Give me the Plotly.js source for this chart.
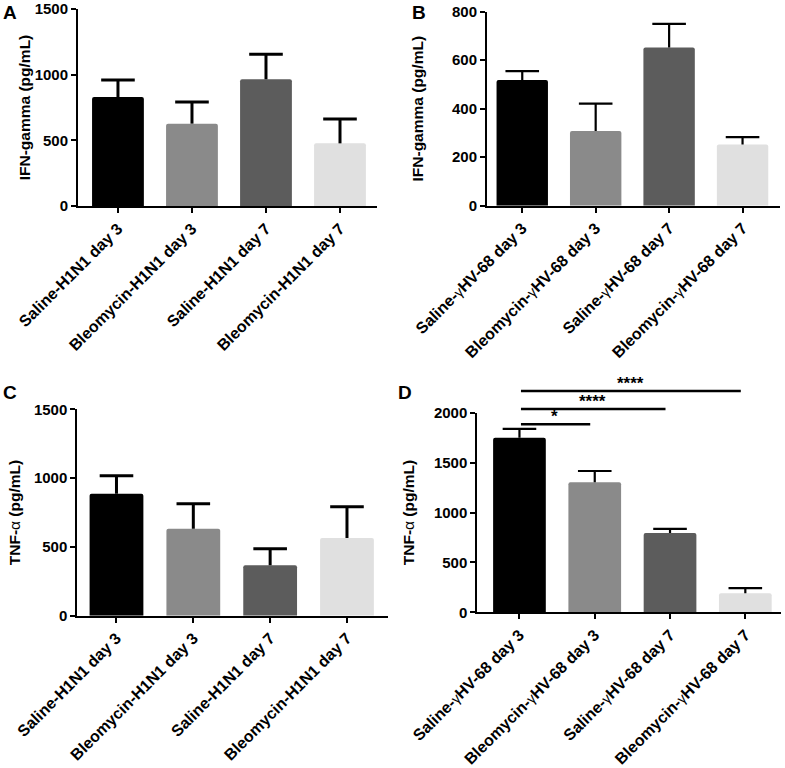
<!DOCTYPE html>
<html>
<head>
<meta charset="utf-8">
<script src="https://cdn.plot.ly/plotly-3.0.1.min.js"></script>
<style>html,body{margin:0;padding:0;background:#fff;}#chart{width:785px;height:768px;}</style>
</head>
<body>
<div id="chart"></div>
<script>
// ---- data ----
const catsH1N1 = ['Saline-H1N1 day 3', 'Bleomycin-H1N1 day 3', 'Saline-H1N1 day 7', 'Bleomycin-H1N1 day 7'];
const catsGHV = ['Saline-γHV-68 day 3', 'Bleomycin-γHV-68 day 3', 'Saline-γHV-68 day 7', 'Bleomycin-γHV-68 day 7'];
const ifnH1N1 = [830, 627, 965, 477];
const ifnH1N1Err = [129, 165, 190, 185];
const ifnGHV = [518, 308, 652, 252];
const ifnGHVErr = [37, 113, 98, 31];
const tnfH1N1 = [887, 632, 366, 565];
const tnfH1N1Err = [130, 182, 121, 227];
const tnfGHV = [1750, 1302, 795, 190];
const tnfGHVErr = [87, 114, 40, 53];
const barColors = ['#000000', '#8a8a8a', '#5c5c5c', '#e0e0e0'];
const panelLetters = ['A', 'B', 'C', 'D'];
const yTitles = ['IFN-gamma (pg/mL)', 'IFN-gamma (pg/mL)', 'TNF-<span style="font-weight:normal">α</span> (pg/mL)', 'TNF-<span style="font-weight:normal">α</span> (pg/mL)'];
const yTicksA = [0, 500, 1000, 1500];
const yTicksB = [0, 200, 400, 600, 800];
const yTicksC = [0, 500, 1000, 1500];
const yTicksD = [0, 500, 1000, 1500, 2000];
// significance comparisons in panel D
const sigFrom = [0, 0, 0];
const sigTo = [1, 2, 3];
const sigLabels = ['*', '****', '****'];
const sigLevel = [1884, 2037, 2218];

// ---- build ----
const FONT = 'Liberation Sans, Arial, Helvetica, sans-serif';
const panels = [
  {cats: catsH1N1, y: ifnH1N1, e: ifnH1N1Err, ax: '', th: 3, ticks: yTicksA},
  {cats: catsGHV, y: ifnGHV, e: ifnGHVErr, ax: '2', th: 2.2, ticks: yTicksB},
  {cats: catsH1N1, y: tnfH1N1, e: tnfH1N1Err, ax: '3', th: 3, ticks: yTicksC},
  {cats: catsGHV, y: tnfGHV, e: tnfGHVErr, ax: '4', th: 2.2, ticks: yTicksD}
];
function fmtCat(c) {
  return '<b>' + c.replace('γ', '<span style="font-weight:normal;font-size:14px">γ</span>') + '</b>';
}
const traces = [];
panels.forEach(p => {
  traces.push({
    type: 'bar', x: p.cats, y: p.y, width: 0.7,
    marker: {color: barColors, line: {width: 0}, cornerradius: 2},
    error_y: {type: 'data', array: p.e, arrayminus: p.e.map(() => 0), symmetric: false,
              color: '#000', thickness: p.th, width: 0},
    xaxis: 'x' + p.ax, yaxis: 'y' + p.ax, showlegend: false, hoverinfo: 'skip'
  });
  // error-bar caps
  traces.push({
    type: 'scatter', mode: 'markers', x: p.cats, y: p.y.map((v, i) => v + p.e[i]),
    marker: {symbol: 'line-ew', size: 24, line: {width: p.th, color: '#000'}},
    cliponaxis: false,
    xaxis: 'x' + p.ax, yaxis: 'y' + p.ax, showlegend: false, hoverinfo: 'skip'
  });
});

const W = 785, H = 768;
function xd(a, b) { return [a / W, b / W]; }
function yd(top, bottom) { return [1 - bottom / H, 1 - top / H]; }

function xaxis(dom, range, yname, cats) {
  return {domain: dom, range: range, type: 'category', anchor: yname,
    tickvals: cats, ticktext: cats.map(fmtCat),
    showline: true, linewidth: 2, linecolor: '#000', ticks: 'outside', ticklen: 5, tickwidth: 2,
    tickcolor: '#000', tickangle: -45, showgrid: false, zeroline: false,
    tickfont: {family: FONT, size: 16, color: '#000'}, fixedrange: true};
}
function yaxis(dom, range, ticks, xname, title, standoff) {
  return {domain: dom, range: range, anchor: xname, tickvals: ticks,
    ticktext: ticks.map(v => '<b>' + v + '</b>'),
    showline: true, linewidth: 2, linecolor: '#000', ticks: 'outside', ticklen: 5, tickwidth: 2,
    tickcolor: '#000', showgrid: false, zeroline: false,
    tickfont: {family: FONT, size: 15, color: '#000'},
    title: {text: '<b>' + title + '</b>', font: {family: FONT, size: 15.5, color: '#000'}, standoff: standoff},
    fixedrange: true};
}

const annotations = [];
const letterPos = [[1, 0], [410, 0], [1, 380], [396, 380]];
panelLetters.forEach((L, i) => {
  annotations.push({text: '<b>' + L + '</b>', xref: 'paper', yref: 'paper',
    x: letterPos[i][0] / W, y: 1 - letterPos[i][1] / H, xanchor: 'left', yanchor: 'top',
    showarrow: false, font: {family: FONT, size: 19, color: '#000'}});
});
const dMax = yTicksD[yTicksD.length - 1];
sigFrom.forEach((f, i) => {
  const t = sigTo[i] - 0.06;
  annotations.push({xref: 'x4', yref: 'y4 domain', axref: 'x4', ayref: 'pixel',
    x: t, y: sigLevel[i] / dMax, ax: f, ay: 0, text: '', showarrow: true,
    arrowhead: 0, arrowwidth: 2.5, arrowcolor: '#000', standoff: 0, startstandoff: 0});
  annotations.push({xref: 'x4', yref: 'y4 domain', x: (f + t) / 2, y: sigLevel[i] / dMax, yanchor: 'bottom',
    yshift: -4, text: '<b>' + sigLabels[i] + '</b>', showarrow: false,
    font: {family: FONT, size: 17, color: '#000'}});
});

const layout = {
  width: W, height: H, margin: {l: 0, r: 0, t: 0, b: 0},
  paper_bgcolor: '#fff', plot_bgcolor: '#fff', showlegend: false,
  xaxis: xaxis(xd(78, 377), [-0.54, 3.5], 'y', catsH1N1),
  yaxis: yaxis(yd(9, 206), [0, 1500], yTicksA, 'x', yTitles[0], 0),
  xaxis2: xaxis(xd(487, 780), [-0.48, 3.51], 'y2', catsGHV),
  yaxis2: yaxis(yd(11.7, 205.7), [0, 800], yTicksB, 'x2', yTitles[1], 25),
  xaxis3: xaxis(xd(77.3, 387.7), [-0.51, 3.53], 'y3', catsH1N1),
  yaxis3: yaxis(yd(409.3, 615.7), [0, 1500], yTicksC, 'x3', yTitles[2], 9),
  xaxis4: xaxis(xd(477.3, 780.7), [-0.56, 3.47], 'y4', catsGHV),
  yaxis4: yaxis(yd(412.7, 612.3), [0, 2000], yTicksD, 'x4', yTitles[3], 15),
  annotations: annotations
};

Plotly.newPlot('chart', traces, layout, {displayModeBar: false, staticPlot: true});
</script>
</body>
</html>
